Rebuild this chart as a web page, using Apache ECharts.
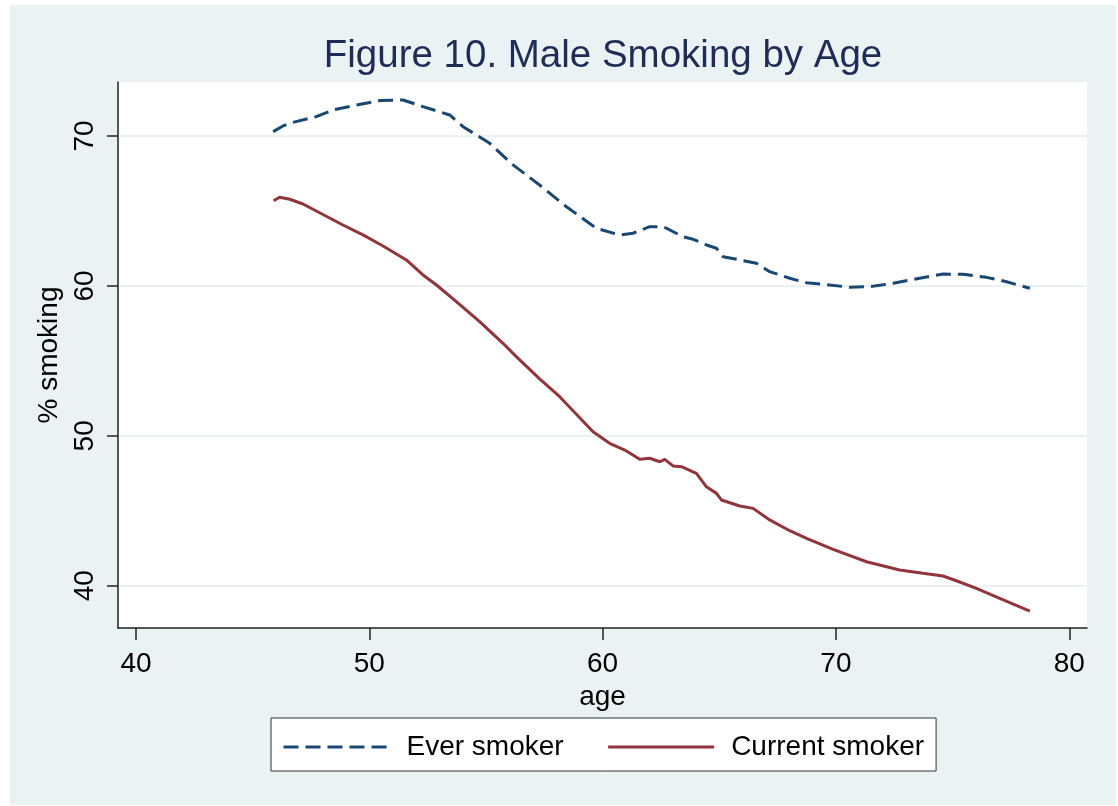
<!DOCTYPE html>
<html><head><meta charset="utf-8">
<script src="https://cdn.jsdelivr.net/npm/echarts@6/dist/echarts.min.js"></script>
<style>
html,body{margin:0;padding:0;background:#fff;}
#bg{position:absolute;left:10px;top:5px;width:1106px;height:800px;background:#eaf2f3;}
#chart{position:absolute;left:0;top:0;width:1118px;height:806px;}
</style>
</head><body><div id="bg"></div><div id="chart"></div>
<script>
const titleText = 'Figure 10. Male Smoking by Age';
const xTicks = [40, 50, 60, 70, 80];
const yTicks = [40, 50, 60, 70];
const seriesNames = ['Ever smoker', 'Current smoker'];

const everAge = [45.88, 46.30, 46.59, 47.73, 48.44, 49.45, 50.45, 51.44, 52.30, 53.45, 54.02, 55.16, 56.16, 57.30, 58.45, 59.73, 60.73, 61.30, 62.02, 62.59, 62.88, 63.45, 63.88, 64.45, 64.88, 65.16, 65.88, 66.59, 67.16, 68.02, 68.74, 69.73, 70.59, 71.45, 72.45, 73.59, 74.59, 75.45, 76.45, 77.31, 78.31];
const everPct = [70.29, 70.67, 70.85, 71.29, 71.73, 72.07, 72.36, 72.40, 71.96, 71.40, 70.62, 69.51, 68.07, 66.73, 65.28, 63.84, 63.40, 63.51, 63.95, 63.95, 63.73, 63.28, 63.11, 62.73, 62.51, 61.95, 61.73, 61.51, 60.95, 60.51, 60.21, 60.06, 59.91, 59.95, 60.17, 60.51, 60.79, 60.77, 60.57, 60.28, 59.84];

const currAge = [45.90, 46.16, 46.59, 47.16, 47.87, 48.87, 49.73, 50.59, 51.59, 52.30, 52.88, 53.73, 54.73, 55.73, 56.30, 57.30, 58.16, 59.59, 60.30, 60.95, 61.59, 62.02, 62.45, 62.66, 63.02, 63.38, 64.02, 64.45, 64.88, 65.09, 65.88, 66.45, 67.16, 68.02, 68.74, 69.88, 71.31, 72.73, 73.73, 74.59, 75.16, 76.02, 77.02, 78.31];
const currPct = [65.68, 65.91, 65.78, 65.46, 64.88, 64.06, 63.40, 62.66, 61.73, 60.73, 60.06, 58.95, 57.61, 56.17, 55.28, 53.80, 52.61, 50.27, 49.50, 49.05, 48.43, 48.50, 48.27, 48.43, 47.99, 47.94, 47.50, 46.60, 46.16, 45.72, 45.32, 45.16, 44.39, 43.67, 43.16, 42.43, 41.60, 41.05, 40.83, 40.65, 40.33, 39.82, 39.16, 38.31];

const zip = (a, b) => a.map((v, i) => [v, b[i]]);
const FONT = 'Liberation Sans, Arial, sans-serif';
const AX = '#222';

const chart = echarts.init(document.getElementById('chart'), null, {renderer: 'canvas'});
chart.setOption({
  animation: false,
  textStyle: {fontFamily: FONT},
  graphic: [{
    type: 'text', x: 603, y: 56,
    style: {text: titleText, fontSize: 38.5, fontFamily: FONT, fill: '#1f2d56', align: 'center', verticalAlign: 'middle'}
  }],
  grid: {left: 118, top: 82, right: 31, bottom: 178, show: true, backgroundColor: '#fff', borderWidth: 0, containLabel: false},
  legend: {
    left: 271, top: 718, orient: 'horizontal',
    itemWidth: 106, itemHeight: 28, itemGap: 43,
    padding: [15, 12, 10, 11],
    backgroundColor: '#fff', borderColor: '#333', borderWidth: 1, borderRadius: 0,
    itemStyle: {opacity: 0},
    lineStyle: {width: 3},
    textStyle: {fontSize: 28, color: '#000', fontFamily: FONT, padding: [0, 0, 0, 12]},
    data: seriesNames
  },
  xAxis: {
    type: 'value', min: 39.23, max: 80.76,
    axisLine: {show: true, onZero: false, lineStyle: {color: AX, width: 1.5}},
    axisTick: {show: true, length: 12, customValues: xTicks, lineStyle: {color: AX, width: 1.5}},
    axisLabel: {customValues: xTicks, margin: 22, fontSize: 28, color: '#000', fontFamily: FONT},
    splitLine: {show: false},
    name: 'age', nameLocation: 'middle', nameGap: 45,
    nameTextStyle: {fontSize: 28, color: '#000', fontFamily: FONT}
  },
  yAxis: {
    type: 'value', min: 37.18, max: 73.6,
    axisLine: {show: true, onZero: false, lineStyle: {color: AX, width: 1.5}},
    axisTick: {show: true, length: 11, customValues: yTicks, lineStyle: {color: AX, width: 1.5}},
    axisLabel: {customValues: yTicks, rotate: 90, margin: 19, fontSize: 28, color: '#000', fontFamily: FONT},
    splitLine: {show: true, lineStyle: {color: '#eaf2f3', width: 2}},
    name: '% smoking', nameLocation: 'middle', nameRotate: 90, nameGap: 33,
    nameTextStyle: {fontSize: 28, color: '#000', fontFamily: FONT}
  },
  series: [
    {name: seriesNames[0], type: 'line', data: zip(everAge, everPct), symbol: 'none', showSymbol: false,
     color: '#1a476f', lineStyle: {color: '#1a476f', width: 3, type: [15, 7]}},
    {name: seriesNames[1], type: 'line', data: zip(currAge, currPct), symbol: 'none', showSymbol: false,
     color: '#90353b', lineStyle: {color: '#90353b', width: 3, type: 'solid'}}
  ]
});
</script>
</body></html>
